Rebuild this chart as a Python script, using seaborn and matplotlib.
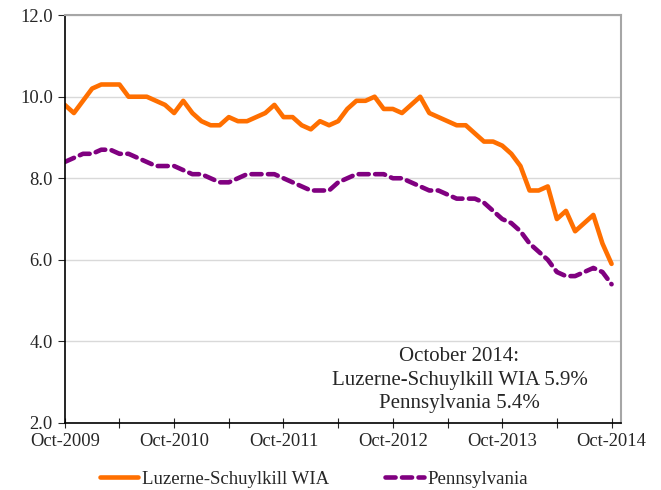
import matplotlib
matplotlib.use("Agg")
import matplotlib.pyplot as plt
from matplotlib.ticker import MultipleLocator, FixedLocator
import seaborn as sns
import numpy as np
import pandas as pd

# monthly unemployment rate (%), Oct-2009 .. Oct-2014
months = pd.date_range("2009-10-01", "2014-10-01", freq="MS")
luzerne = [9.8, 9.6, 9.9, 10.2, 10.3, 10.3, 10.3, 10.0, 10.0, 10.0,
           9.9, 9.8, 9.6, 9.9, 9.6, 9.4, 9.3, 9.3, 9.5, 9.4,
           9.4, 9.5, 9.6, 9.8, 9.5, 9.5, 9.3, 9.2, 9.4, 9.3,
           9.4, 9.7, 9.9, 9.9, 10.0, 9.7, 9.7, 9.6, 9.8, 10.0,
           9.6, 9.5, 9.4, 9.3, 9.3, 9.1, 8.9, 8.9, 8.8, 8.6,
           8.3, 7.7, 7.7, 7.8, 7.0, 7.2, 6.7, 6.9, 7.1, 6.4,
           5.9]
penn = [8.4, 8.5, 8.6, 8.6, 8.7, 8.7, 8.6, 8.6, 8.5, 8.4,
        8.3, 8.3, 8.3, 8.2, 8.1, 8.1, 8.0, 7.9, 7.9, 8.0,
        8.1, 8.1, 8.1, 8.1, 8.0, 7.9, 7.8, 7.7, 7.7, 7.7,
        7.9, 8.0, 8.1, 8.1, 8.1, 8.1, 8.0, 8.0, 7.9, 7.8,
        7.7, 7.7, 7.6, 7.5, 7.5, 7.5, 7.4, 7.2, 7.0, 6.9,
        6.7, 6.4, 6.2, 6.0, 5.7, 5.6, 5.6, 5.7, 5.8, 5.7,
        5.4]
series_names = ["Luzerne-Schuylkill WIA", "Pennsylvania"]
year_labels = ["Oct-2009", "Oct-2010", "Oct-2011", "Oct-2012", "Oct-2013", "Oct-2014"]
note = "October 2014:\nLuzerne-Schuylkill WIA 5.9%\nPennsylvania 5.4%"

idx = np.arange(len(months))
df = pd.concat([
    pd.DataFrame({"m": idx, "rate": luzerne, "series": series_names[0]}),
    pd.DataFrame({"m": idx, "rate": penn, "series": series_names[1]}),
])

sns.set_style("white")
plt.rcParams["font.family"] = ["Liberation Serif", "DejaVu Serif"]

fig = plt.figure(figsize=(6.61, 4.9), dpi=100)
ax = fig.add_axes([0.098, 0.137, 0.841, 0.832])

sns.lineplot(data=df, x="m", y="rate", hue="series", style="series",
             palette={series_names[0]: "#FF6F00", series_names[1]: "#800080"},
             dashes={series_names[0]: "", series_names[1]: (2.2, 1.4)},
             linewidth=3.3, ax=ax, legend=True)
for ln in ax.get_lines():
    ln.set_dash_capstyle("round")
    ln.set_solid_capstyle("round")
    ln.set_solid_joinstyle("round")

ax.set_xlim(0, 61)
ax.set_ylim(2, 12)
ax.yaxis.set_major_locator(MultipleLocator(2))
ax.set_yticklabels([f"{v:.1f}" for v in ax.get_yticks()])
ax.xaxis.set_major_locator(FixedLocator(np.arange(0, 61, 12)))
ax.xaxis.set_minor_locator(FixedLocator(np.arange(6, 61, 12)))
ax.set_xticklabels(year_labels)
ax.tick_params(axis="x", which="both", direction="inout", length=7, width=0.8,
               labelsize=13.3, pad=4, bottom=True)
ax.tick_params(axis="y", direction="out", length=5, width=0.8, labelsize=13.3, left=True)
ax.grid(axis="y", color="#d9d9d9", linewidth=1)
ax.set_xlabel("")
ax.set_ylabel("")

for s in ["left", "bottom"]:
    ax.spines[s].set_color("black")
    ax.spines[s].set_linewidth(1.2)
for s in ["top", "right"]:
    ax.spines[s].set_visible(True)
    ax.spines[s].set_color("#a6a6a6")
    ax.spines[s].set_linewidth(1.5)

ax.text(0.71, 0.105, note, transform=ax.transAxes, ha="center", va="center",
        fontsize=15, linespacing=1.32)

leg = ax.legend(loc="center", bbox_to_anchor=(0.448, -0.138), ncol=2, frameon=False,
                fontsize=13.5, handlelength=2.05, handletextpad=0.2, columnspacing=3.0)

fig.savefig("out.png", dpi=100)
